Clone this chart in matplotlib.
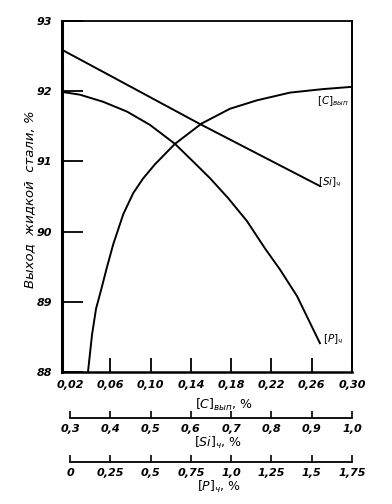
import numpy as np
import matplotlib
matplotlib.use('Agg')
import matplotlib.pyplot as plt

# ---- data ----
c_x = [0.0378, 0.0418, 0.0458, 0.0514, 0.0564, 0.0629, 0.0729, 0.0828, 0.0927,
       0.1044, 0.1242, 0.1507, 0.1788, 0.2056, 0.2384, 0.2712, 0.298]
c_y = [88.0, 88.53, 88.90, 89.20, 89.48, 89.82, 90.25, 90.55, 90.76,
       90.96, 91.25, 91.54, 91.75, 91.87, 91.98, 92.03, 92.06]
si_x = [0.28, 0.40, 0.62, 0.92]
si_y = [92.59, 92.22, 91.54, 90.65]
p_x = [-0.05, 0.062, 0.2045, 0.353, 0.496, 0.651, 0.763, 0.869, 0.980, 1.098,
       1.210, 1.303, 1.409, 1.551]
p_y = [91.99, 91.95, 91.85, 91.71, 91.52, 91.25, 91.0, 90.76, 90.48, 90.15,
       89.76, 89.46, 89.08, 88.41]

c_ticks = [0.02, 0.06, 0.10, 0.14, 0.18, 0.22, 0.26, 0.30]
c_labels = ['0,02', '0,06', '0,10', '0,14', '0,18', '0,22', '0,26', '0,30']
si_ticks = [0.3, 0.4, 0.5, 0.6, 0.7, 0.8, 0.9, 1.0]
si_labels = ['0,3', '0,4', '0,5', '0,6', '0,7', '0,8', '0,9', '1,0']
p_ticks = [0, 0.25, 0.5, 0.75, 1.0, 1.25, 1.5, 1.75]
p_labels = ['0', '0,25', '0,5', '0,75', '1,0', '1,25', '1,5', '1,75']
y_ticks = [88, 89, 90, 91, 92, 93]
y_labels = ['88', '89', '90', '91', '92', '93']

ylabel = 'Выход  жидкой  стали, %'
c_title = r'$[C]_{вып}$, %'
si_title = r'$[Si]_{ч}$, %'
p_title = r'$[P]_{ч}$, %'


def c2si(c):
    return 0.3 + (np.asarray(c) - 0.02) * 2.5


def si2c(s):
    return 0.02 + (np.asarray(s) - 0.3) / 2.5


def c2p(c):
    return (np.asarray(c) - 0.02) * 6.25


def p2c(p):
    return 0.02 + np.asarray(p) / 6.25


plt.rcParams['font.family'] = ['DejaVu Sans']
plt.rcParams['mathtext.fontset'] = 'dejavusans'
plt.rcParams['mathtext.default'] = 'it'

W, H = 392, 504
fig = plt.figure(figsize=(W / 100, H / 100), dpi=100)
L, R, T, B = 62, 352, 21, 372
ax = fig.add_axes([L / W, 1 - B / H, (R - L) / W, (B - T) / H])

xlim = (0.012, 0.30)
ax.set_xlim(*xlim)
ax.set_ylim(88, 93)

tick_font = dict(fontsize=8, fontstyle='italic', fontweight='bold')

lw = 1.4
ax.plot(c_x, c_y, color='black', lw=lw, solid_joinstyle='round')

ax_si = ax.twiny()
ax_si.set_xlim(c2si(xlim[0]), c2si(xlim[1]))
ax_si.plot(si_x, si_y, color='black', lw=lw)
ax_si.axis('off')

ax_p = ax.twiny()
ax_p.set_xlim(c2p(xlim[0]), c2p(xlim[1]))
ax_p.plot(p_x, p_y, color='black', lw=lw, solid_joinstyle='round')
ax_p.axis('off')

ax.set_xticks(c_ticks)
ax.set_xticklabels(c_labels, **tick_font)
ax.set_yticks(y_ticks)
ax.set_yticklabels(y_labels, **tick_font)
ax.tick_params(axis='x', direction='in', length=10, width=1.3, pad=6)
ax.tick_params(axis='y', direction='in', length=15, width=1.3, pad=7)
ax.xaxis.get_major_ticks()[0].tick1line.set_visible(False)
ax.spines['left'].set_linewidth(2.2)
ax.spines['bottom'].set_linewidth(1.8)
ax.spines['top'].set_linewidth(1.3)
ax.spines['right'].set_linewidth(1.4)

# secondary scales below
h = B - T
for loc_px, fwd, inv, ticks, labels, lo, hi in [
        (418, c2si, si2c, si_ticks, si_labels, 0.3, 1.0),
        (462, c2p, p2c, p_ticks, p_labels, 0.0, 1.75)]:
    sec = ax.secondary_xaxis(-(loc_px - B) / h, functions=(fwd, inv))
    sec.set_xticks(ticks)
    sec.set_xticklabels(labels, **tick_font)
    sec.tick_params(direction='in', length=5, width=1.2, pad=4)
    sec.spines['bottom'].set_linewidth(1.3)
    sec.spines['bottom'].set_bounds(lo, hi)

# axis titles
fig.text(30 / W, 1 - 199 / H, ylabel, rotation=90, ha='center', va='center',
         fontsize=9.5, fontstyle='italic')
fig.text(224 / W, 1 - 405 / H, c_title, ha='center', va='center', fontsize=9)
fig.text(218 / W, 1 - 443 / H, si_title, ha='center', va='center', fontsize=9)
fig.text(219 / W, 1 - 487 / H, p_title, ha='center', va='center', fontsize=9)

# curve labels
fig.text(333 / W, 1 - 101 / H, r'$[C]_{вып}$', ha='center', va='center', fontsize=7.5)
fig.text(330 / W, 1 - 182 / H, r'$[Si]_{ч}$', ha='center', va='center', fontsize=7.5)
fig.text(333 / W, 1 - 339 / H, r'$[P]_{ч}$', ha='center', va='center', fontsize=7.5)

fig.savefig('out.png', dpi=100)
